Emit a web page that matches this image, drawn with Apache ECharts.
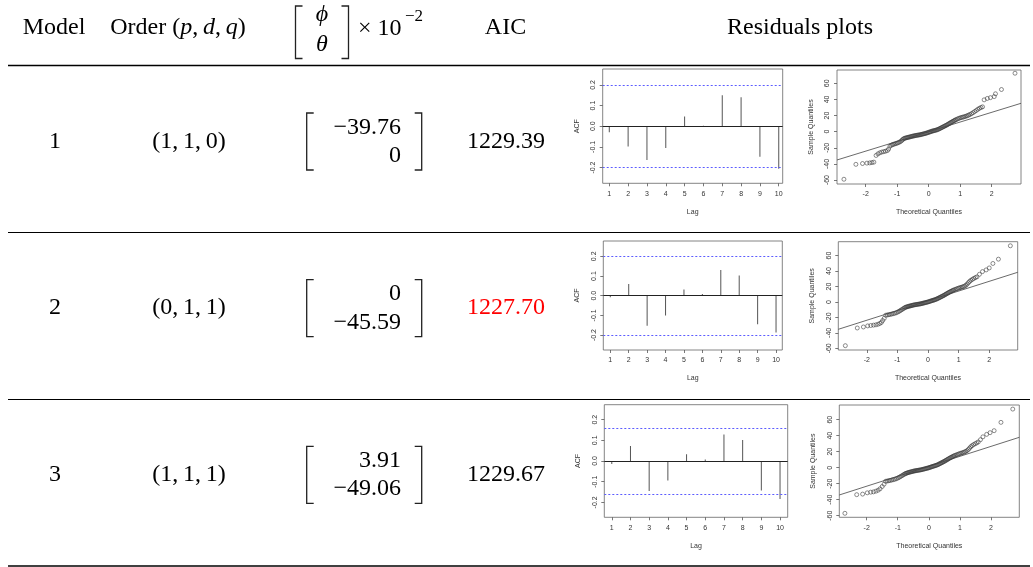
<!DOCTYPE html>
<html><head><meta charset="utf-8">
<script src="https://cdn.jsdelivr.net/npm/echarts@6/dist/echarts.min.js"></script>
<style>html,body{margin:0;padding:0;background:#fff}#c{width:1033px;height:567px}</style>
</head><body><div id="c"></div>
<script>
// ---------- table data ----------
const models = ['1', '2', '3'];
const orders = [[1, 1, 0], [0, 1, 1], [1, 1, 1]];
const phiVals = [-39.76, 0, 3.91];
const thetaVals = [0, -45.59, -49.06];
const aicVals = [1229.39, 1227.70, 1229.67];
const bestAicIndex = 1;

// ---------- ACF residual plots ----------
const lags = [1, 2, 3, 4, 5, 6, 7, 8, 9, 10];
const acf1 = [-0.029, -0.098, -0.163, -0.105, 0.047, 0.002, 0.150, 0.140, -0.147, -0.206];
const acf2 = [-0.008, 0.059, -0.153, -0.101, 0.032, 0.008, 0.131, 0.103, -0.145, -0.187];
const acf3 = [-0.015, 0.073, -0.145, -0.094, 0.033, 0.007, 0.128, 0.101, -0.143, -0.184];
const acfBands = [0.197, 0.195, 0.164];
const acfYTicks = [-0.2, -0.1, 0, 0.1, 0.2];

// ---------- normal QQ plots: [theoretical, sample] ----------
const qqXTicks = [-2, -1, 0, 1, 2];
const qqYTicks = [-60, -40, -20, 0, 20, 40, 60];
const qq1 = [[-2.69,-59],[-2.31,-40.5],[-2.10,-39.5],[-1.96,-39],[-1.87,-38.7],[-1.80,-38.3],[-1.74,-37.8],
[-1.67,-29.5],[-1.61,-27.5],[-1.55,-26.2],[-1.49,-25.3],[-1.43,-24.8],[-1.37,-24.2],[-1.31,-23.4],[-1.27,-21.5],
[-1.23,-18],[-1.19,-16.8],[-1.15,-16.2],[-1.11,-15.6],[-1.07,-15.1],[-1.03,-14.6],[-0.99,-14],[-0.95,-13.4],[-0.91,-12.6],[-0.87,-11.5],[-0.84,-10.3],[-0.81,-9.2],[-0.78,-8.5],[-0.75,-8],[-0.72,-7.7],[-0.69,-7.4],[-0.66,-7.1],[-0.63,-6.8],[-0.60,-6.5],[-0.57,-6.2],[-0.54,-5.9],[-0.51,-5.6],[-0.48,-5.3],[-0.45,-5.1],[-0.42,-4.8],[-0.39,-4.6],[-0.36,-4.4],[-0.33,-4.2],[-0.30,-4],[-0.27,-3.8],[-0.24,-3.5],[-0.21,-3.2],[-0.18,-2.9],[-0.15,-2.6],[-0.12,-2.3],[-0.09,-2],[-0.06,-1.6],[-0.03,-1.2],[0,-0.8],[0.03,-0.4],[0.06,0],[0.09,0.4],[0.12,0.8],[0.15,1.1],[0.18,1.4],[0.21,1.7],[0.24,2],[0.27,2.4],[0.30,2.9],[0.33,3.4],[0.36,4],[0.39,4.6],[0.42,5.2],[0.45,5.8],[0.48,6.4],[0.51,7],[0.54,7.6],[0.57,8.2],[0.60,8.9],[0.63,9.6],[0.66,10.3],[0.69,11],[0.72,11.7],[0.75,12.4],[0.78,13],[0.81,13.7],[0.84,14.4],[0.87,15],[0.91,15.7],[0.95,16.4],[0.99,17],[1.03,17.5],[1.07,17.9],[1.11,18.3],[1.15,18.8],[1.19,19.3],[1.23,19.9],[1.27,20.6],[1.31,21.4],[1.36,22.4],[1.41,23.6],[1.46,25],[1.51,26.3],[1.56,27.8],[1.61,29],[1.66,30],[1.71,30.8],
[1.76,39.5],[1.86,41.2],[1.96,42.2],[2.08,43.5],[2.12,47],[2.31,52.3],[2.74,72.5]];
const qq2 = [[-2.70,-56.6],[-2.31,-33.7],[-2.11,-32.4],[-1.97,-31],[-1.87,-30.5],[-1.78,-30],[-1.70,-29.6],[-1.63,-28.8],[-1.57,-27.8],[-1.52,-26.4],[-1.48,-24],[-1.43,-21.2],
[-1.38,-17.2],[-1.33,-16.8],[-1.28,-16.5],[-1.23,-16.1],[-1.18,-15.6],[-1.13,-15.1],[-1.08,-14.6],[-1.03,-13.9],[-0.98,-12.9],[-0.94,-12],[-0.90,-11],[-0.86,-10],[-0.82,-9],[-0.78,-8],[-0.75,-7.2],[-0.72,-6.7],[-0.69,-6.3],[-0.66,-6],[-0.63,-5.6],[-0.60,-5.3],[-0.57,-5],[-0.54,-4.7],[-0.51,-4.4],[-0.48,-4.1],[-0.45,-3.8],[-0.42,-3.6],[-0.39,-3.4],[-0.36,-3.2],[-0.33,-3],[-0.30,-2.8],[-0.27,-2.6],[-0.24,-2.4],[-0.21,-2.1],[-0.18,-1.8],[-0.15,-1.5],[-0.12,-1.2],[-0.09,-0.9],[-0.06,-0.6],[-0.03,-0.3],[0,0],[0.03,0.4],[0.06,0.8],[0.09,1.2],[0.12,1.6],[0.15,2],[0.18,2.3],[0.21,2.7],[0.24,3.1],[0.27,3.6],[0.30,4.1],[0.33,4.7],[0.36,5.3],[0.39,5.9],[0.42,6.5],[0.45,7.1],[0.48,7.7],[0.51,8.3],[0.54,9],[0.57,9.7],[0.60,10.4],[0.63,11.1],[0.66,11.8],[0.69,12.5],[0.72,13.1],[0.75,13.7],[0.78,14.3],[0.81,14.9],[0.84,15.5],[0.88,16.1],[0.92,16.7],[0.96,17.3],[1.00,17.9],[1.04,18.4],[1.08,18.9],[1.12,19.4],[1.16,19.9],[1.20,20.6],[1.24,21.7],[1.28,23.2],[1.32,25],[1.36,26.6],[1.40,28],[1.45,29.3],[1.50,30.5],[1.55,31.6],[1.60,32.5],
[1.68,35.8],[1.78,39.3],[1.90,41.5],[2.00,44],[2.12,49.8],[2.30,55.4],[2.69,72.7]];
const qq3 = [[-2.70,-57],[-2.32,-33.7],[-2.13,-33],[-1.98,-31.4],[-1.87,-30.6],[-1.78,-30.2],[-1.70,-29.3],[-1.63,-28.1],[-1.57,-26.4],[-1.50,-23.5],[-1.44,-20.6],
[-1.39,-17],[-1.34,-16.6],[-1.29,-16.3],[-1.24,-15.9],[-1.19,-15.4],[-1.14,-14.9],[-1.09,-14.4],[-1.04,-13.7],[-0.99,-12.8],[-0.95,-11.9],[-0.91,-11],[-0.87,-10.1],[-0.83,-9.1],[-0.79,-8.2],[-0.76,-7.5],[-0.73,-7],[-0.70,-6.6],[-0.67,-6.2],[-0.64,-5.8],[-0.61,-5.5],[-0.58,-5.2],[-0.55,-4.9],[-0.52,-4.6],[-0.49,-4.3],[-0.46,-4],[-0.43,-3.8],[-0.40,-3.6],[-0.37,-3.4],[-0.34,-3.2],[-0.31,-3],[-0.28,-2.8],[-0.25,-2.6],[-0.22,-2.3],[-0.19,-2],[-0.16,-1.7],[-0.13,-1.4],[-0.10,-1.1],[-0.07,-0.8],[-0.04,-0.5],[-0.01,-0.2],[0.02,0.2],[0.05,0.6],[0.08,1],[0.11,1.4],[0.14,1.8],[0.17,2.1],[0.20,2.5],[0.23,2.9],[0.26,3.3],[0.29,3.8],[0.32,4.4],[0.35,5],[0.38,5.6],[0.41,6.2],[0.44,6.8],[0.47,7.4],[0.50,8],[0.53,8.7],[0.56,9.4],[0.59,10.1],[0.62,10.8],[0.65,11.5],[0.68,12.2],[0.71,12.8],[0.74,13.4],[0.77,14],[0.80,14.6],[0.83,15.2],[0.87,15.8],[0.91,16.4],[0.95,17],[0.99,17.6],[1.03,18.1],[1.07,18.6],[1.11,19.1],[1.15,19.7],[1.19,20.4],[1.23,21.4],[1.27,22.8],[1.31,24.5],[1.35,26.2],[1.39,27.6],[1.44,28.9],[1.49,30],[1.54,31],[1.59,32.2],
[1.66,35],[1.74,38.6],[1.86,41.7],[1.97,43.8],[2.10,46.3],[2.32,56.7],[2.70,73.3]];
const qqLine1 = [[-2.91, -35.1], [2.93, 35.2]];
const qqLine2 = [[-2.93, -35.4], [2.93, 38.4]];
const qqLine3 = [[-2.88, -34.1], [2.91, 38.0]];

// ---------- layout (pixels) ----------
const acfBox = [
  {left:602.7, top:69, width:180, height:114.3, xMin:0.65, xMax:10.21, yMin:-0.276, yMax:0.277},
  {left:603.3, top:241, width:179, height:109, xMin:0.62, xMax:10.34, yMin:-0.276, yMax:0.278},
  {left:604.3, top:404.7, width:183.4, height:112.6, xMin:0.60, xMax:10.41, yMin:-0.272, yMax:0.272}
];
const qqBox = [
  {left:837, top:70, width:184, height:114, xMin:-2.91, xMax:2.93, yMin:-64.9, yMax:76.5},
  {left:838.3, top:241.7, width:179.4, height:108.3, xMin:-2.93, xMax:2.93, yMin:-62.2, yMax:78},
  {left:839.3, top:405, width:180, height:112.3, xMin:-2.88, xMax:2.91, yMin:-62, yMax:78.4}
];
const rowCenters = [141.5, 308.2, 474.9];

const SERIF = '"Liberation Serif", "Times New Roman", serif';
const SANS = '"Liberation Sans", Arial, sans-serif';
const acfData = [acf1, acf2, acf3];
const qqData = [qq1, qq2, qq3];
const qqLines = [qqLine1, qqLine2, qqLine3];

function fmtCoef(v) {
  if (v === 0) return '0';
  return (v < 0 ? '\u2212' : '') + Math.abs(v).toFixed(2);
}
function txt(text, x, y, opt) {
  opt = opt || {};
  const align = opt.align || 'center';
  return {
    type: 'text', x: x, y: y, silent: true,
    style: Object.assign({
      text: text, fill: opt.fill || '#000',
      fontFamily: SERIF, fontSize: opt.size || 24, fontStyle: opt.italic ? 'italic' : 'normal',
      align: align, textAlign: align, verticalAlign: 'middle', textVerticalAlign: 'middle'
    }, opt.rich ? {rich: opt.rich} : {})
  };
}
function hline(x1, x2, y, w) {
  return {type: 'line', silent: true, shape: {x1: x1, y1: y, x2: x2, y2: y}, style: {stroke: '#000', lineWidth: w}};
}
function bracket(x, top, bottom, dir) {
  const s = 7 * dir;
  return {type: 'polyline', silent: true,
    shape: {points: [[x + s, top], [x, top], [x, bottom], [x + s, bottom]]},
    style: {stroke: '#222', lineWidth: 1.3, fill: null}};
}

const italicRich = {i: {fontFamily: SERIF, fontSize: 24, fontStyle: 'italic'}};

const graphics = [];
// rules
graphics.push(hline(8, 1030, 65.5, 1.4));
graphics.push(hline(8, 1030, 232.5, 1));
graphics.push(hline(8, 1030, 399.5, 1));
graphics.push(hline(8, 1030, 566, 1.4));
// header
graphics.push(txt('Model', 54, 28));
graphics.push(txt('Order ({i|p},\u2009{i|d},\u2009{i|q})', 178, 28, {rich: italicRich}));
graphics.push(bracket(295.5, 6, 58.5, 1));
graphics.push(bracket(348.5, 6, 58.5, -1));
graphics.push(txt('\u03D5', 322, 15, {italic: true}));
graphics.push(txt('\u03B8', 322, 45, {italic: true}));
graphics.push(txt('\u00D7 10', 358, 29, {align: 'left'}));
graphics.push(txt('\u22122', 405, 17, {align: 'left', size: 17}));
graphics.push(txt('AIC', 505.5, 28));
graphics.push(txt('Residuals plots', 800, 28));
// rows
models.forEach(function (m, i) {
  const cy = rowCenters[i];
  graphics.push(txt(m, 55, cy));
  graphics.push(txt('(' + orders[i].join(',\u2009') + ')', 189, cy));
  graphics.push(bracket(306.7, cy - 28.5, cy + 28.5, 1));
  graphics.push(bracket(421.7, cy - 28.5, cy + 28.5, -1));
  graphics.push(txt(fmtCoef(phiVals[i]), 401, cy - 14.2, {align: 'right'}));
  graphics.push(txt(fmtCoef(thetaVals[i]), 401, cy + 14.2, {align: 'right'}));
  graphics.push(txt(aicVals[i].toFixed(2), 506, cy, {fill: i === bestAicIndex ? '#ff0000' : '#000'}));
});

const grids = [], xAxes = [], yAxes = [], series = [];
const tickStyle = {color: '#555', width: 0.8};
const labStyle = {fontSize: 7, fontFamily: SANS, color: '#333'};
function addAxes(b, xTicks, yTicks, xName, yName, yFmt, xFmt) {
  const k = grids.length;
  grids.push({left: b.left, top: b.top, width: b.width, height: b.height, show: true,
    borderColor: '#666', borderWidth: 0.8, backgroundColor: 'transparent', containLabel: false, outerBoundsMode: 'none'});
  xAxes.push({gridIndex: k, type: 'value', min: b.xMin, max: b.xMax, position: 'bottom',
    axisLine: {show: false, onZero: false}, splitLine: {show: false},
    axisTick: {show: true, length: 3, lineStyle: tickStyle, customValues: xTicks},
    axisLabel: Object.assign({customValues: xTicks, margin: 7, formatter: xFmt}, labStyle),
    name: xName, nameLocation: 'middle', nameGap: 25, nameTextStyle: labStyle});
  yAxes.push({gridIndex: k, type: 'value', min: b.yMin, max: b.yMax, position: 'left',
    axisLine: {show: false, onZero: false}, splitLine: {show: false},
    axisTick: {show: true, length: 3, lineStyle: tickStyle, customValues: yTicks},
    axisLabel: Object.assign({customValues: yTicks, margin: 6, rotate: 90, formatter: yFmt}, labStyle),
    name: yName, nameLocation: 'middle', nameRotate: 90, nameGap: 22.5, nameTextStyle: labStyle});
  return k;
}

acfBox.forEach(function (b, i) {
  const k = addAxes(b, lags, acfYTicks, 'Lag', 'ACF', function (v) { return v.toFixed(1); }, function (v) { return String(v); });
  series.push({type: 'bar', xAxisIndex: k, yAxisIndex: k, barWidth: 1, silent: true,
    data: lags.map(function (l, j) { return [l, acfData[i][j]]; }),
    itemStyle: {color: '#555'},
    markLine: {silent: true, symbol: 'none', label: {show: false}, animation: false,
      data: [
        {yAxis: 0, lineStyle: {color: '#222', type: 'solid', width: 1}},
        {yAxis: acfBands[i], lineStyle: {color: '#5c5cff', type: [2, 2], width: 1}},
        {yAxis: -acfBands[i], lineStyle: {color: '#5c5cff', type: [2, 2], width: 1}}
      ]}});
});
qqBox.forEach(function (b, i) {
  const k = addAxes(b, qqXTicks, qqYTicks, 'Theoretical Quantiles', 'Sample Quantiles', function (v) { return String(v); }, function (v) { return String(v); });
  series.push({type: 'scatter', xAxisIndex: k, yAxisIndex: k, silent: true,
    symbol: 'circle', symbolSize: 4, data: qqData[i],
    itemStyle: {color: 'transparent', borderColor: '#333', borderWidth: 0.7}});
  series.push({type: 'line', xAxisIndex: k, yAxisIndex: k, silent: true, symbol: 'none',
    data: qqLines[i], lineStyle: {color: '#444', width: 0.8}});
});

const chart = echarts.init(document.getElementById('c'), null, {renderer: 'canvas'});
chart.setOption({
  animation: false,
  backgroundColor: '#fff',
  grid: grids, xAxis: xAxes, yAxis: yAxes, series: series,
  graphic: {elements: graphics}
});
</script></body></html>
